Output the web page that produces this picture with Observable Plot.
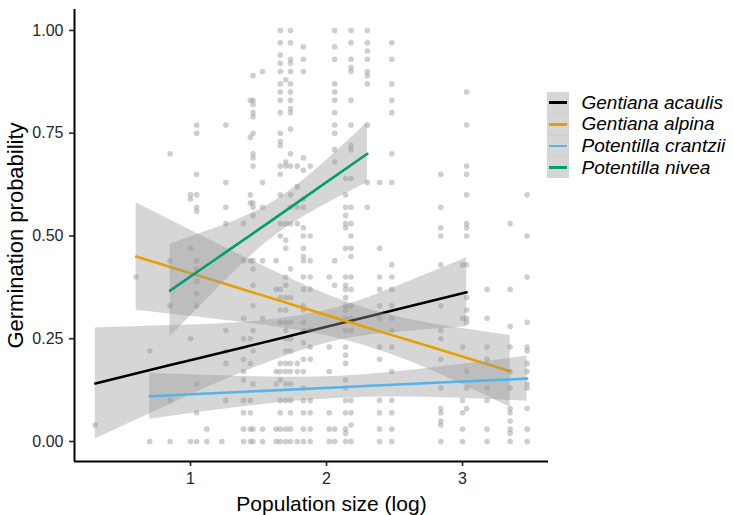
<!DOCTYPE html>
<html>
<head>
<meta charset="utf-8">
<script src="https://cdn.jsdelivr.net/npm/d3@7"></script>
<script src="https://cdn.jsdelivr.net/npm/@observablehq/plot@0.6"></script>
<style>
  html, body { margin: 0; padding: 0; background: #ffffff; }
  #wrap { position: relative; width: 733px; height: 515px; font-family: "Liberation Sans", Arial, sans-serif; }
  #legend { position: absolute; left: 547px; top: 91.5px; }
  .row { display: flex; align-items: center; height: 21.6px; }
  .key { position: relative; width: 22px; height: 21.6px; background: #d6d6d6; box-sizing: border-box; border-top: 1px solid #cfcfcf; }
  .row:first-child .key { border-top: none; }
  .key .ln { position: absolute; left: 2px; right: 2px; top: 50%; height: 2.8px; margin-top: -1.4px; }
  .lab { margin-left: 12.5px; font-size: 19px; font-style: italic; color: #000; white-space: nowrap; line-height: 19px; }
</style>
</head>
<body>
<div id="wrap"><div id="chart"></div><div id="legend"></div></div>
<script>
// ---------- data ----------
const species = ["Gentiana acaulis", "Gentiana alpina", "Potentilla crantzii", "Potentilla nivea"];
const speciesColors = ["#000000", "#E69F00", "#56B4E9", "#009E73"];

// population log sizes (x) and observed germination probabilities (y) per population
const popX = [0.30, 0.60, 0.70, 0.85, 1.00, 1.045, 1.12, 1.23, 1.26, 1.39, 1.44, 1.46, 1.53, 1.63, 1.66, 1.70, 1.735, 1.785, 1.83, 1.88, 2.02, 2.06, 2.14, 2.18, 2.30, 2.39, 2.48, 2.84, 3.00, 3.03, 3.18, 3.35, 3.475];
const popY = [
  [0.04],
  [0.40],
  [0.22, 0],
  [0.70, 0.44, 0.33, 0.10, 0],
  [0.60, 0.59, 0.47, 0.25, 0],
  [0.77, 0.75, 0.65, 0.60, 0.57, 0.56, 0.44, 0.42, 0.39, 0.36, 0.33, 0.14, 0.07, 0],
  [0.03, 0],
  [0],
  [0.77, 0.63, 0.57, 0.53, 0.27, 0.22, 0.19, 0.10],
  [0.53, 0.44, 0.30, 0.25, 0.20, 0.17, 0.15, 0.10, 0.07, 0.03, 0],
  [0.83, 0.74, 0.60, 0.58, 0.44, 0.25, 0.19, 0.10, 0.07, 0.03, 0],
  [0.89, 0.83, 0.82, 0.80, 0.79, 0.75, 0.70, 0.69, 0.67, 0.58, 0.57, 0.55, 0.44, 0.42, 0.38, 0.33, 0.27, 0.22, 0.14, 0.03, 0],
  [0.90, 0.63, 0.57, 0.44, 0.30, 0.03, 0],
  [0.44, 0.37, 0.17, 0.14, 0.03, 0],
  [1.00, 0.97, 0.94, 0.92, 0.90, 0.87, 0.85, 0.83, 0.80, 0.75, 0.73, 0.72, 0.67, 0.65, 0.60, 0.53, 0.50, 0.37, 0.35, 0.32, 0.29, 0.19, 0.17, 0.15, 0.10, 0.07, 0.03, 0],
  [0.88, 0.68, 0.67, 0.53, 0.49, 0.47, 0.40, 0.38, 0.35, 0.32, 0.29, 0.27, 0.25, 0.22, 0.19, 0.17, 0.14, 0.10, 0.03, 0],
  [1.00, 0.97, 0.93, 0.92, 0.90, 0.87, 0.85, 0.83, 0.81, 0.80, 0.76, 0.70, 0.67, 0.60, 0.57, 0.53, 0.42, 0.35, 0.29, 0.25, 0.22, 0.19, 0.17, 0.14, 0.10, 0.07, 0.03, 0],
  [0.67, 0.62, 0.57, 0.53, 0.19, 0.17, 0],
  [0.96, 0.93, 0.90, 0.69, 0.66, 0.59, 0.57, 0.52, 0.50, 0.47, 0.45, 0.44, 0.40, 0.37, 0.33, 0.32, 0.29, 0.27, 0.24, 0.20, 0.17, 0.13, 0.10, 0.07, 0.03, 0],
  [0.67, 0.50, 0.44, 0.40, 0.37, 0.27, 0.23, 0.20, 0.10, 0.07, 0.03, 0],
  [0.40, 0.23, 0.17, 0.07, 0.03, 0],
  [1.00, 0.96, 0.93, 0.87, 0.85, 0.83, 0.80, 0.77, 0.75, 0.71, 0.68, 0.44, 0.38, 0.03, 0],
  [0.64, 0.60, 0.57, 0.55, 0.53, 0.52, 0.47, 0.40, 0.38, 0.37, 0.35, 0.33, 0.32, 0.30, 0.27, 0.23, 0.21, 0.19, 0.15, 0.13, 0.10, 0.07, 0.03, 0.02, 0],
  [1.00, 0.97, 0.93, 0.91, 0.90, 0.83, 0.77, 0.72, 0.71, 0.64, 0.57, 0.53, 0.50, 0.47, 0.45, 0.40, 0.37, 0.33, 0.30, 0.27, 0.10, 0.07, 0.04, 0],
  [1.00, 0.97, 0.95, 0.93, 0.90, 0.89, 0.87, 0.77, 0.63, 0.57],
  [0.63, 0.47, 0.40, 0.37, 0.33, 0.30, 0.23, 0.20, 0.10, 0.07, 0.03, 0],
  [0.97, 0.93, 0.87, 0.83, 0.80, 0.70, 0.63, 0.43, 0.40, 0.37, 0.33, 0.30, 0.27, 0.23, 0.17, 0.10, 0.07, 0.03, 0],
  [0.65, 0.57, 0.52, 0.50, 0.43, 0.33, 0.27, 0.25, 0.20, 0.13, 0.08, 0.07, 0.05, 0.04, 0],
  [0.43, 0.30, 0.23, 0.10, 0.07, 0.03, 0],
  [0.85, 0.77, 0.67, 0.65, 0.60, 0.53, 0.52, 0.50, 0.43, 0.35, 0.32, 0.30, 0.29, 0.17, 0.13, 0.08],
  [0.37, 0.30, 0.23, 0.20, 0.13, 0.10, 0.03, 0],
  [0.53, 0.37, 0.28, 0.23, 0.17, 0.13, 0.08, 0.07, 0.05, 0.03, 0.02, 0],
  [0.60, 0.50, 0.40, 0.29, 0.23, 0.22, 0.19, 0.17, 0.14, 0.13, 0.08, 0.03, 0]
];

// fitted curves with confidence bands
const fitX = [
  [0.30, 0.85, 1.40, 2.00, 2.50, 3.03],
  [0.60, 1.20, 1.80, 2.30, 2.80, 3.35],
  [0.70, 1.40, 2.10, 2.80, 3.475],
  [0.85, 1.20, 1.55, 1.90, 2.30]
];
const fitY = [
  [0.141, 0.186, 0.230, 0.279, 0.320, 0.363],
  [0.450, 0.389, 0.328, 0.277, 0.227, 0.171],
  [0.110, 0.121, 0.132, 0.143, 0.153],
  [0.367, 0.447, 0.527, 0.608, 0.700]
];
const fitLo = [
  [0.006, 0.090, 0.170, 0.239, 0.265, 0.279],
  [0.319, 0.297, 0.270, 0.231, 0.169, 0.083],
  [0.054, 0.085, 0.105, 0.107, 0.098],
  [0.254, 0.373, 0.482, 0.560, 0.630]
];
const fitHi = [
  [0.276, 0.282, 0.290, 0.319, 0.375, 0.447],
  [0.581, 0.481, 0.386, 0.323, 0.285, 0.258],
  [0.166, 0.158, 0.159, 0.180, 0.208],
  [0.480, 0.521, 0.572, 0.655, 0.776]
];

const yTicks = [0, 0.25, 0.5, 0.75, 1];
const xTicks = [1, 2, 3];
const xDomain = [0.147, 3.632];
const yDomain = [-0.0487, 1.051];
const xTitle = "Population size (log)";
const yTitle = "Germination probability";

// ---------- build tables ----------
const points = [];
popX.forEach((x, i) => popY[i].forEach(y => points.push({x, y})));

const marks = [
  Plot.dot(points, {x: "x", y: "y", r: 2.8, fill: "#999999", fillOpacity: 0.48, stroke: "none"})
];
species.forEach((s, i) => {
  const rows = fitX[i].map((x, j) => ({x, y: fitY[i][j], lo: fitLo[i][j], hi: fitHi[i][j]}));
  marks.push(Plot.areaY(rows, {x: "x", y1: "lo", y2: "hi", fill: "#999999", fillOpacity: 0.4, curve: "natural"}));
  marks.push(Plot.line(rows, {x: "x", y: "y", stroke: speciesColors[i], strokeWidth: 2.6, curve: "natural"}));
});

marks.push(
  Plot.axisY({ticks: yTicks, tickFormat: d3.format(".2f"), tickSize: 5, tickPadding: 6, fontSize: 16, color: "#262626", strokeWidth: 1.6, label: null}),
  Plot.axisX({ticks: xTicks, tickFormat: d3.format("d"), tickSize: 5, tickPadding: 6, fontSize: 16, color: "#262626", strokeWidth: 1.6, label: null}),
  Plot.ruleX([xDomain[0]], {stroke: "#000", strokeWidth: 2}),
  Plot.ruleY([yDomain[0]], {stroke: "#000", strokeWidth: 2}),
  Plot.text([yTitle], {frameAnchor: "left", rotate: -90, dx: -59, fontSize: 22, lineAnchor: "middle", textAnchor: "middle", fill: "#000"}),
  Plot.text([xTitle], {frameAnchor: "bottom", dx: 20, dy: 49, fontSize: 21, lineAnchor: "bottom", textAnchor: "middle", fill: "#000"})
);

const chart = Plot.plot({
  width: 733,
  height: 515,
  marginLeft: 74,
  marginRight: 185,
  marginTop: 9,
  marginBottom: 54,
  x: {domain: xDomain},
  y: {domain: yDomain},
  style: {fontFamily: "'Liberation Sans', Arial, sans-serif", fontSize: "16px", background: "#ffffff", overflow: "visible"},
  marks
});
document.getElementById("chart").appendChild(chart);

// ---------- legend ----------
const legend = document.getElementById("legend");
species.forEach((s, i) => {
  const row = document.createElement("div");
  row.className = "row";
  const key = document.createElement("div");
  key.className = "key";
  const ln = document.createElement("div");
  ln.className = "ln";
  ln.style.background = speciesColors[i];
  key.appendChild(ln);
  const lab = document.createElement("div");
  lab.className = "lab";
  lab.textContent = s;
  row.appendChild(key);
  row.appendChild(lab);
  legend.appendChild(row);
});
</script>
</body>
</html>
